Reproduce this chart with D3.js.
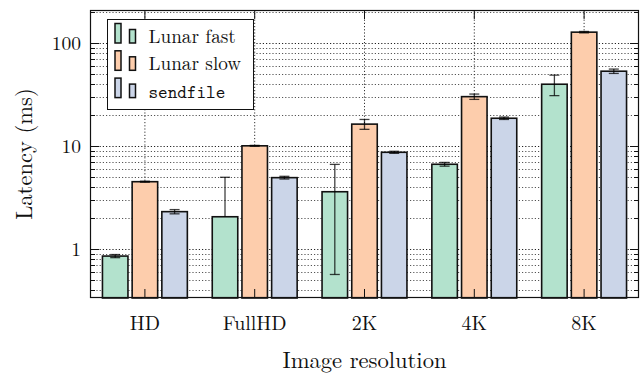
<!DOCTYPE html>
<html>
<head>
<meta charset="utf-8">
<script src="https://cdn.jsdelivr.net/npm/d3@7"></script>
<style>
  body { margin: 0; background: #fff; }
  svg { display: block; }
</style>
</head>
<body>
<div id="chart"></div>
<script>
// Chart data
const resolutions = ['HD', 'FullHD', '2K', '4K', '8K'];
const seriesNames = ['Lunar fast', 'Lunar slow', 'sendfile'];
const seriesColors = ['#b3e2cd', '#fdcdac', '#cbd5e8'];

const lunarFast = [0.86, 2.07, 3.62, 6.69, 40.0];
const lunarFastErr = [0.03, 2.93, 3.05, 0.28, 9.0];
const lunarSlow = [4.53, 10.1, 16.4, 30.3, 128];
const lunarSlowErr = [0.05, 0.1, 1.8, 1.8, 2.0];
const sendfile = [2.32, 4.96, 8.74, 18.7, 53.5];
const sendfileErr = [0.11, 0.15, 0.2, 0.5, 2.6];

const yMajorTicks = [1, 10, 100];
const yTickLabels = ['1', '10', '100'];

const values = [lunarFast, lunarSlow, sendfile];
const errors = [lunarFastErr, lunarSlowErr, sendfileErr];

const serifFont = "'Latin Modern Roman', 'CMU Serif', 'Liberation Serif', serif";
const monoFont = "'Latin Modern Mono', 'CMU Typewriter Text', 'DejaVu Sans Mono', monospace";

const width = 642, height = 374;
const margin = { top: 10, right: 3, bottom: 76, left: 90 };
const plotW = width - margin.left - margin.right;
const plotH = height - margin.top - margin.bottom;

const svg = d3.select('#chart').append('svg')
  .attr('width', width)
  .attr('height', height)
  .style('font-family', serifFont);

const x = d3.scaleBand()
  .domain(resolutions)
  .range([0, plotW])
  .padding(0);

const xInner = d3.scaleBand()
  .domain(seriesNames)
  .range([-42.45, 42.45])
  .paddingInner(0.141);

const y = d3.scaleLog()
  .domain([0.337, 210])
  .range([plotH, 0]);

const g = svg.append('g')
  .attr('transform', `translate(${margin.left},${margin.top})`);

// Minor + major log ticks inside the domain
const allTicks = y.ticks().filter(t => t >= y.domain()[0] && t <= y.domain()[1]);

// Horizontal grid
g.append('g')
  .selectAll('line')
  .data(allTicks)
  .join('line')
  .attr('x1', 0)
  .attr('x2', plotW)
  .attr('y1', d => Math.round(y(d)) + 0.5)
  .attr('y2', d => Math.round(y(d)) + 0.5)
  .attr('stroke', d => yMajorTicks.includes(d) ? '#222' : '#555')
  .attr('stroke-width', 1)
  .attr('stroke-dasharray', '1.2,2');

// Vertical grid at category centers
g.append('g')
  .selectAll('line')
  .data(resolutions)
  .join('line')
  .attr('x1', d => x(d) + x.bandwidth() / 2)
  .attr('x2', d => x(d) + x.bandwidth() / 2)
  .attr('y1', 0)
  .attr('y2', plotH)
  .attr('stroke', '#333')
  .attr('stroke-width', 1)
  .attr('stroke-dasharray', '1.2,2');

// Bars
const groups = g.append('g')
  .selectAll('g')
  .data(resolutions)
  .join('g')
  .attr('transform', d => `translate(${x(d) + x.bandwidth() / 2},0)`);

groups.each(function (res, i) {
  const grp = d3.select(this);
  seriesNames.forEach((name, s) => {
    const v = values[s][i];
    grp.append('rect')
      .attr('x', xInner(name))
      .attr('y', y(v))
      .attr('width', xInner.bandwidth())
      .attr('height', plotH - y(v))
      .attr('fill', seriesColors[s])
      .attr('stroke', '#111')
      .attr('stroke-width', 1.6);
  });
});

// Error bars on top of bars
groups.each(function (res, i) {
  const grp = d3.select(this);
  seriesNames.forEach((name, s) => {
    const v = values[s][i];
    const e = errors[s][i];
    const cx = xInner(name) + xInner.bandwidth() / 2;
    const hi = y(v + e);
    const hasLow = v - e > y.domain()[0];
    const lo = hasLow ? y(v - e) : y(v);
    const eg = grp.append('g')
      .attr('stroke', '#000')
      .attr('stroke-opacity', 0.75)
      .attr('stroke-width', 1.3);
    eg.append('line')
      .attr('x1', cx).attr('x2', cx)
      .attr('y1', hi).attr('y2', lo);
    eg.append('line')
      .attr('x1', cx - 5).attr('x2', cx + 5)
      .attr('y1', hi).attr('y2', hi);
    if (hasLow) {
      eg.append('line')
        .attr('x1', cx - 5).attr('x2', cx + 5)
        .attr('y1', lo).attr('y2', lo);
    }
  });
});

// Tick marks (inside, on both sides)
const tickG = g.append('g').attr('stroke', '#111').attr('stroke-width', 1);
allTicks.forEach(t => {
  const len = yMajorTicks.includes(t) ? 9 : 5;
  const ty = Math.round(y(t)) + 0.5;
  tickG.append('line').attr('x1', 0).attr('x2', len).attr('y1', ty).attr('y2', ty);
  tickG.append('line').attr('x1', plotW - len).attr('x2', plotW).attr('y1', ty).attr('y2', ty);
});
resolutions.forEach(r => {
  const tx = x(r) + x.bandwidth() / 2;
  tickG.append('line').attr('x1', tx).attr('x2', tx).attr('y1', 0).attr('y2', 9);
  tickG.append('line').attr('x1', tx).attr('x2', tx).attr('y1', plotH - 9).attr('y2', plotH);
});

// Frame
g.append('rect')
  .attr('x', 0.5)
  .attr('y', 0.5)
  .attr('width', plotW - 1)
  .attr('height', plotH - 1)
  .attr('fill', 'none')
  .attr('stroke', '#111')
  .attr('stroke-width', 1.2);

// Y tick labels
g.append('g')
  .selectAll('text')
  .data(yMajorTicks)
  .join('text')
  .attr('x', -9)
  .attr('y', d => y(d))
  .attr('dy', '0.33em')
  .attr('text-anchor', 'end')
  .attr('font-family', serifFont)
  .attr('font-size', 19.5)
  .attr('fill', '#111')
  .text((d, i) => yTickLabels[i]);

// X tick labels
g.append('g')
  .selectAll('text')
  .data(resolutions)
  .join('text')
  .attr('x', d => x(d) + x.bandwidth() / 2)
  .attr('y', plotH + 32)
  .attr('text-anchor', 'middle')
  .attr('font-family', serifFont)
  .attr('font-size', 20)
  .attr('fill', '#111')
  .text(d => d);

// Axis titles
svg.append('text')
  .attr('x', margin.left + plotW / 2)
  .attr('y', 368)
  .attr('text-anchor', 'middle')
  .attr('font-family', serifFont)
  .attr('font-size', 22.6)
  .attr('fill', '#111')
  .text('Image resolution');

svg.append('text')
  .attr('transform', `translate(32,${margin.top + plotH / 2}) rotate(-90)`)
  .attr('text-anchor', 'middle')
  .attr('font-family', serifFont)
  .attr('font-size', 22.6)
  .attr('fill', '#111')
  .text('Latency (ms)');

// Legend
const legend = svg.append('g').attr('transform', 'translate(107.5,19.5)');
legend.append('rect')
  .attr('width', 146)
  .attr('height', 90)
  .attr('fill', '#fff')
  .attr('stroke', '#111')
  .attr('stroke-width', 1);

seriesNames.forEach((name, s) => {
  const row = legend.append('g').attr('transform', `translate(0,${4 + s * 27.3})`);
  row.append('rect')
    .attr('x', 7.5).attr('y', 0)
    .attr('width', 6).attr('height', 19.5)
    .attr('fill', seriesColors[s])
    .attr('stroke', '#111').attr('stroke-width', 1.5);
  row.append('rect')
    .attr('x', 22).attr('y', 6)
    .attr('width', 6).attr('height', 13.5)
    .attr('fill', seriesColors[s])
    .attr('stroke', '#111').attr('stroke-width', 1.5);
  const label = row.append('text')
    .attr('x', 41)
    .attr('y', 19.5)
    .attr('fill', '#111')
    .text(name);
  if (name === 'sendfile') {
    label.attr('font-family', monoFont).attr('font-size', 18.3);
  } else {
    label.attr('font-family', serifFont).attr('font-size', 19.2);
  }
});
</script>
</body>
</html>
